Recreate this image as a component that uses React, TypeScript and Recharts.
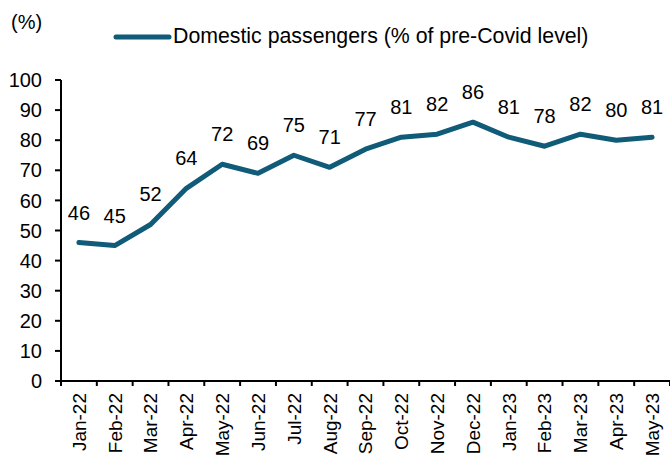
import React from 'react';
import { LineChart, Line, XAxis, YAxis, LabelList, Legend } from 'recharts';

const months = ['Jan-22','Feb-22','Mar-22','Apr-22','May-22','Jun-22','Jul-22','Aug-22','Sep-22','Oct-22','Nov-22','Dec-22','Jan-23','Feb-23','Mar-23','Apr-23','May-23'];
const passengers = [46,45,52,64,72,69,75,71,77,81,82,86,81,78,82,80,81];
const yTicks = [0,10,20,30,40,50,60,70,80,90,100];

const data = months.map((m, i) => ({ month: m, value: passengers[i] }));

const FONT = '"Liberation Sans", Arial, sans-serif';
const COLOR = '#0f5b78';
const W = 670;
const H = 466;
const Y_W = 61;
const BW = (W - Y_W) / months.length;

const XTick = (props: any) => {
  const { x, y, payload, index } = props;
  return (
    <g>
      {index === 0 && <line x1={x - BW / 2} x2={x - BW / 2} y1={y} y2={y + 5} stroke="#000" strokeWidth={2} />}
      <line x1={x + BW / 2} x2={x + BW / 2} y1={y} y2={y + 5} stroke="#000" strokeWidth={2} />
      <text
        transform={`translate(${x},${y + 12}) rotate(-90)`}
        textAnchor="end"
        dy="0.36em"
        fontSize={19}
        fill="#000"
        fontFamily={FONT}
      >
        {payload.value}
      </text>
    </g>
  );
};

const LegendContent = () => (
  <div style={{ display: 'flex', alignItems: 'center', fontFamily: FONT, fontSize: 21.3, color: '#000', whiteSpace: 'nowrap' }}>
    <svg width={60} height={10} style={{ marginLeft: 112 }}>
      <line x1={4} y1={5} x2={57} y2={5} stroke={COLOR} strokeWidth={5} strokeLinecap="round" />
    </svg>
    <span style={{ marginLeft: 1 }}>Domestic passengers (% of pre-Covid level)</span>
  </div>
);

const UnitLabel = (props: any) => {
  const { viewBox } = props;
  return (
    <text x={viewBox.x + 11} y={viewBox.y - 51} fontSize={20} fill="#000" fontFamily={FONT}>
      (%)
    </text>
  );
};

export default function App() {
  return (
    <div style={{ position: 'absolute', left: 0, top: 0, width: W, height: H, background: '#fff' }}>
      <LineChart width={W} height={H} data={data} margin={{ top: 80, right: 0, bottom: 0, left: 0 }}>
        <XAxis
          dataKey="month"
          interval={0}
          height={H - 381}
          padding={{ left: BW / 2, right: BW / 2 }}
          tick={<XTick />}
          tickLine={false}
          tickSize={0}
          tickMargin={0}
          axisLine={{ stroke: '#000', strokeWidth: 2 }}
        />
        <YAxis
          width={Y_W}
          domain={[0, 100]}
          ticks={yTicks}
          interval={0}
          tickSize={6}
          tickMargin={13}
          tick={{ fontSize: 20, fill: '#000', fontFamily: FONT }}
          tickLine={{ stroke: '#000', strokeWidth: 2 }}
          axisLine={{ stroke: '#000', strokeWidth: 2 }}
          label={<UnitLabel />}
        />
        <Legend
          layout="horizontal"
          verticalAlign="middle"
          content={<LegendContent />}
          wrapperStyle={{ top: 24, left: 0, width: W }}
        />
        <Line
          type="linear"
          dataKey="value"
          stroke={COLOR}
          strokeWidth={5}
          strokeLinejoin="round"
          strokeLinecap="round"
          dot={false}
          isAnimationActive={false}
        >
          <LabelList dataKey="value" position="top" offset={23} fontSize={20} fill="#000" fontFamily={FONT} />
        </Line>
      </LineChart>
    </div>
  );
}
